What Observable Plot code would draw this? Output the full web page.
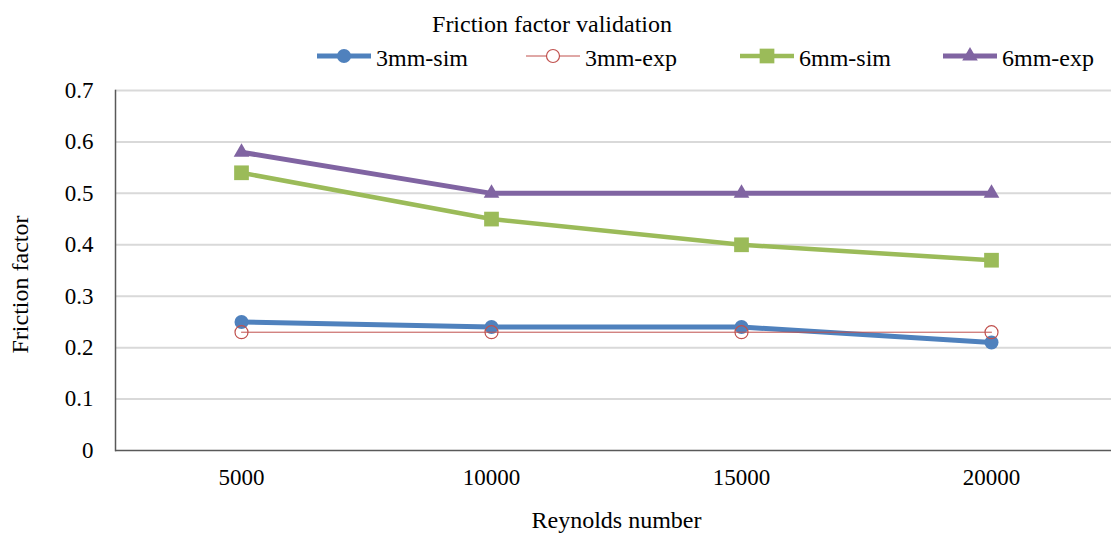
<!DOCTYPE html>
<html>
<head>
<meta charset="utf-8">
<script src="https://cdn.jsdelivr.net/npm/d3@7"></script>
<script src="https://cdn.jsdelivr.net/npm/@observablehq/plot@0.6"></script>
<style>
  html, body { margin: 0; padding: 0; background: white; }
  #wrap { position: relative; width: 1111px; height: 533px; font-family: 'Liberation Serif', serif; }
  #overlay { position: absolute; left: 0; top: 0; }
</style>
</head>
<body>
<div id="wrap">
  <div id="chart"></div>
  <svg id="overlay" width="1111" height="80"></svg>
</div>
<script>
const categories = ["5000", "10000", "15000", "20000"];
const sim3 = [0.25, 0.24, 0.24, 0.21];
const exp3 = [0.23, 0.23, 0.23, 0.23];
const sim6 = [0.54, 0.45, 0.40, 0.37];
const exp6 = [0.58, 0.50, 0.50, 0.50];
const yTicks = [0, 0.1, 0.2, 0.3, 0.4, 0.5, 0.6, 0.7];
const seriesNames = ["3mm-sim", "3mm-exp", "6mm-sim", "6mm-exp"];
const titleText = "Friction factor validation";
const xLabel = "Reynolds number";
const yLabel = "Friction factor";

const toRows = (vals) => categories.map((c, i) => ({cat: c, v: vals[i]}));
const rSim3 = toRows(sim3), rExp3 = toRows(exp3), rSim6 = toRows(sim6), rExp6 = toRows(exp6);

const BLUE = "#4f81bd", RED = "#c0504d", GREEN = "#9bbb59", PURPLE = "#8064a2";
const FONT = "Liberation Serif, serif";

const chart = Plot.plot({
  width: 1111,
  height: 533,
  marginTop: 90,
  marginBottom: 83,
  marginLeft: 115,
  marginRight: 0,
  style: {fontFamily: FONT, fontSize: "23px", color: "#000", background: "white", overflow: "visible"},
  x: {type: "point", domain: categories, range: [240, 992], padding: 0},
  y: {domain: [0, 0.7]},
  marks: [
    Plot.ruleY(yTicks.filter(d => d > 0), {stroke: "#d9d9d9", strokeWidth: 2}),
    Plot.axisY(yTicks, {tickSize: 0, tickPadding: 22, tickFormat: d => String(d), fontSize: 23, label: null}),
    Plot.axisX(categories, {tickSize: 0, tickPadding: 18, fontSize: 23, label: null}),
    Plot.frame({anchor: "left", stroke: "#595959", strokeWidth: 1.5}),
    Plot.ruleY([0], {stroke: "#595959", strokeWidth: 1.5}),
    Plot.text([xLabel], {frameAnchor: "bottom", dx: 3, dy: 77, lineAnchor: "bottom", fontSize: 24}),
    Plot.text([yLabel], {frameAnchor: "left", rotate: -90, dx: -88, dy: 14, textAnchor: "middle", lineAnchor: "bottom", fontSize: 24}),
    // 3mm-sim
    Plot.line(rSim3, {x: "cat", y: "v", stroke: BLUE, strokeWidth: 5}),
    Plot.dot(rSim3, {x: "cat", y: "v", symbol: "circle", r: 7, fill: BLUE}),
    // 3mm-exp
    Plot.line(rExp3, {x: "cat", y: "v", stroke: RED, strokeWidth: 1}),
    Plot.dot(rExp3, {x: "cat", y: "v", symbol: "circle", r: 6.5, fill: "none", stroke: RED, strokeWidth: 1.2}),
    // 6mm-sim
    Plot.line(rSim6, {x: "cat", y: "v", stroke: GREEN, strokeWidth: 4.5}),
    Plot.dot(rSim6, {x: "cat", y: "v", symbol: "square", r: 8.3, fill: GREEN}),
    // 6mm-exp
    Plot.line(rExp6, {x: "cat", y: "v", stroke: PURPLE, strokeWidth: 5}),
    Plot.dot(rExp6, {x: "cat", y: "v", symbol: "triangle", r: 5.8, fill: PURPLE})
  ]
});
document.getElementById("chart").appendChild(chart);

// Title + legend
const ov = d3.select("#overlay");
ov.append("text").attr("x", 552).attr("y", 31.5).attr("text-anchor", "middle")
  .attr("font-family", FONT).attr("font-size", 24).attr("fill", "#000").text(titleText);

const items = [
  {name: seriesNames[0], cx: 344, color: BLUE, sw: 5, sym: d3.symbolCircle, size: Math.PI * 49, fill: BLUE, stroke: "none"},
  {name: seriesNames[1], cx: 553, color: RED, sw: 1, sym: d3.symbolCircle, size: Math.PI * 6.5 * 6.5, fill: "white", stroke: RED},
  {name: seriesNames[2], cx: 767, color: GREEN, sw: 4.5, sym: d3.symbolSquare, size: Math.PI * 8.3 * 8.3, fill: GREEN, stroke: "none"},
  {name: seriesNames[3], cx: 970, color: PURPLE, sw: 5, sym: d3.symbolTriangle, size: Math.PI * 5.8 * 5.8, fill: PURPLE, stroke: "none"}
];
const cy = 56;
items.forEach(it => {
  ov.append("line").attr("x1", it.cx - 27).attr("x2", it.cx + 27).attr("y1", cy).attr("y2", cy)
    .attr("stroke", it.color).attr("stroke-width", it.sw);
  ov.append("path").attr("d", d3.symbol(it.sym, it.size)())
    .attr("transform", `translate(${it.cx},${cy})`)
    .attr("fill", it.fill).attr("stroke", it.stroke).attr("stroke-width", 1.2);
  ov.append("text").attr("x", it.cx + 32).attr("y", 66)
    .attr("font-family", FONT).attr("font-size", 24).attr("fill", "#000").text(it.name);
});
</script>
</body>
</html>
